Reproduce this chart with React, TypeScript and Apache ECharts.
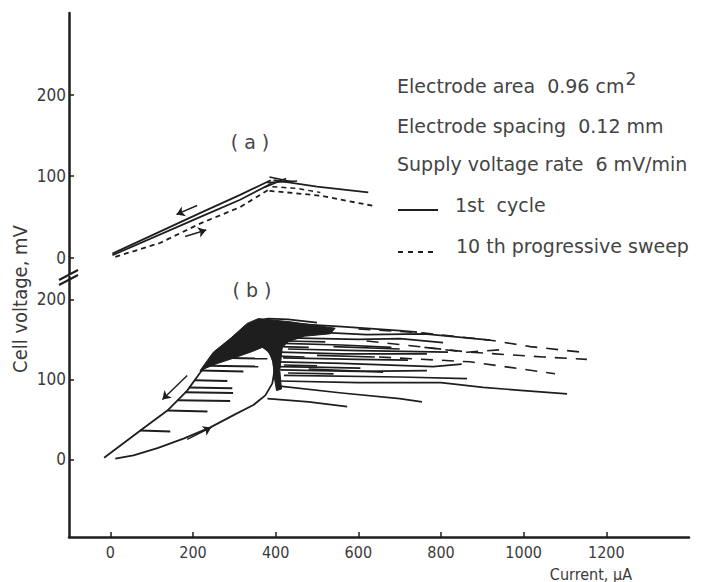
import React, { useEffect, useRef } from "react";
import * as echarts from "echarts";

// ---------- axes ----------
const X_TICKS = [0, 200, 400, 600, 800, 1000, 1200];
const Y_TICKS = [0, 100, 200];

// ---------- panel (a) : [current µA, voltage mV] ----------
const A_REVERSE_1ST = [[5, 5], [218, 55], [314, 77], [388, 95]];
const A_FORWARD_1ST = [[5, 3], [218, 50], [314, 71], [390, 91]];
const A_AFTER_1ST = [[395, 95], [500, 87], [624, 80]];
const A_UP_10TH = [[12, 1], [120, 18], [218, 42], [314, 62], [385, 84]];
const A_AFTER_10TH = [[385, 82], [510, 76], [641, 63]];
const A_AFTER_10TH_B = [[392, 87], [450, 85], [508, 80]];
const A_PEAK_MARKS = [
  [[372, 86], [425, 97]],
  [[385, 99], [440, 93]],
  [[380, 92], [452, 94]],
];
const A_ARROW_REV = [[210, 64], [160, 53]];
const A_ARROW_FWD = [[181, 26], [232, 34]];

// ---------- panel (b) ----------
const B_FORWARD = [[12, 1], [56, 5], [114, 14], [177, 26], [242, 40], [297, 55], [346, 68], [375, 80], [392, 95], [397, 111], [392, 128], [377, 139], [358, 143]];
const B_REVERSE = [[-15, 2], [80, 39], [138, 61], [186, 86], [218, 109], [249, 127], [290, 146], [331, 164], [363, 174], [382, 176], [430, 175], [500, 171]];
const B_DARK = [[217, 111], [249, 134], [290, 151], [331, 170], [358, 176], [435, 172], [544, 164], [532, 157], [470, 154], [430, 147], [416, 140], [410, 111], [414, 88], [402, 86], [396, 105], [394, 121], [384, 134], [368, 140], [339, 134], [295, 126], [254, 119]];
const B_HATCH = [
  [[72, 36], [145, 35]],
  [[138, 61], [235, 60]],
  [[163, 74], [290, 73]],
  [[181, 84], [297, 83]],
  [[190, 90], [295, 89]],
  [[204, 99], [283, 98]],
  [[221, 111], [322, 110]],
  [[240, 117], [358, 116]],
  [[262, 127], [380, 126]],
];
const B_FAN_SOLID = [
  [[430, 170], [560, 166], [700, 161], [742, 159]],
  [[460, 160], [620, 156], [760, 157], [919, 149]],
  [[430, 152], [600, 150], [701, 151], [805, 146]],
  [[418, 145], [560, 143], [680, 140]],
  [[411, 134], [560, 132], [766, 132]],
  [[430, 138], [600, 136], [817, 134]],
  [[404, 122], [560, 120], [781, 116], [850, 119]],
  [[418, 127], [600, 125], [720, 124]],
  [[411, 112], [600, 110], [766, 111]],
  [[420, 105], [700, 103], [863, 101]],
  [[410, 98], [600, 96], [800, 96], [902, 90], [1000, 86], [1105, 82]],
  [[404, 92], [560, 83], [700, 76], [754, 72]],
  [[380, 76], [480, 72], [573, 66]],
  [[404, 116], [520, 115], [605, 114]],
  [[420, 160], [520, 159]],
  [[415, 165], [500, 163]],
  [[425, 148], [520, 147]],
  [[410, 141], [480, 140]],
  [[420, 118], [500, 117]],
  [[430, 108], [540, 107]],
  [[405, 129], [470, 128]],
  [[500, 130], [640, 128]],
  [[540, 141], [700, 138]],
  [[480, 113], [660, 109]],
];
const B_FAN_DASHED = [
  [[600, 163], [760, 158], [920, 149], [1016, 141], [1141, 134]],
  [[620, 148], [870, 134], [1047, 128], [1153, 125]],
  [[650, 128], [870, 122], [967, 115], [1076, 107]],
  [[760, 140], [863, 134], [943, 137]],
];
const B_ARROW_REV = [[186, 105], [126, 75]];
const B_ARROW_FWD = [[186, 25], [244, 40]];

const INK = "#1e1e1e";
const TXT = "#3a3a3a";
const NOTE = "#444444";
const NARROW = "'Liberation Sans Narrow', 'DejaVu Sans Condensed', 'Roboto', sans-serif";
const ROUND = "'DejaVu Sans', 'Noto Sans', sans-serif";

function lineSeries(data: number[][], axis: number, dashed = false, width = 1.8) {
  return {
    type: "line",
    xAxisIndex: axis,
    yAxisIndex: axis,
    data,
    showSymbol: false,
    symbol: "none",
    silent: true,
    lineStyle: { color: INK, width, type: dashed ? [5, 4] : "solid" },
  };
}

function linesSeries(paths: number[][][], axis: number, opts: any = {}) {
  return {
    type: "lines",
    coordinateSystem: "cartesian2d",
    xAxisIndex: axis,
    yAxisIndex: axis,
    polyline: opts.polyline ?? true,
    silent: true,
    data: paths.map((p) => ({ coords: p })),
    lineStyle: { color: INK, width: opts.width ?? 1.8, type: opts.dash ?? "solid", opacity: 1 },
    symbol: opts.symbol ?? "none",
    symbolSize: opts.symbolSize ?? 0,
  };
}

const fmt = (v: number) => String(v);

export default function App() {
  const ref = useRef<HTMLDivElement>(null);
  useEffect(() => {
    if (!ref.current) return;
    const chart = echarts.init(ref.current, null, { renderer: "svg" });
    const xAxisBase = {
      type: "value",
      min: -100,
      max: 1400,
      splitLine: { show: false },
    };
    const yLabel = { customValues: Y_TICKS, color: TXT, fontFamily: NARROW, fontSize: 17, margin: 3, formatter: fmt };
    const yTick = { show: true, inside: true, length: 5, customValues: Y_TICKS, lineStyle: { color: INK, width: 1.5 } };
    const option: any = {
      animation: false,
      backgroundColor: "#ffffff",
      grid: [
        { left: 69, right: 16, top: 13, height: 261 },
        { left: 69, right: 16, top: 277, height: 260 },
      ],
      xAxis: [
        { ...xAxisBase, gridIndex: 0, show: false },
        {
          ...xAxisBase,
          gridIndex: 1,
          axisLine: { show: true, onZero: false, lineStyle: { color: INK, width: 2.5 } },
          axisTick: { show: true, inside: true, length: 5, customValues: X_TICKS, lineStyle: { color: INK, width: 1.5 } },
          axisLabel: { customValues: X_TICKS, color: TXT, fontFamily: NARROW, fontSize: 16, margin: 7, formatter: fmt },
        },
      ],
      yAxis: [
        {
          type: "value",
          gridIndex: 0,
          min: -20,
          max: 300,
          splitLine: { show: false },
          axisLine: { show: true, onZero: false, lineStyle: { color: INK, width: 2.5 } },
          axisTick: yTick,
          axisLabel: yLabel,
        },
        {
          type: "value",
          gridIndex: 1,
          min: -97,
          max: 228,
          splitLine: { show: false },
          axisLine: { show: true, onZero: false, lineStyle: { color: INK, width: 2.5 } },
          axisTick: yTick,
          axisLabel: yLabel,
        },
      ],
      series: [
        // panel (a)
        lineSeries(A_REVERSE_1ST, 0),
        lineSeries(A_FORWARD_1ST, 0),
        lineSeries(A_AFTER_1ST, 0),
        lineSeries(A_UP_10TH, 0, true),
        lineSeries(A_AFTER_10TH, 0, true),
        lineSeries(A_AFTER_10TH_B, 0, true, 1.5),
        linesSeries(A_PEAK_MARKS, 0, { width: 1.6 }),
        linesSeries([A_ARROW_REV, A_ARROW_FWD], 0, { width: 1.4, polyline: false, symbol: ["none", "arrow"], symbolSize: 8 }),
        // panel (b)
        {
          type: "custom",
          xAxisIndex: 1,
          yAxisIndex: 1,
          silent: true,
          data: [[0, 0]],
          renderItem: (_params: any, api: any) => ({
            type: "polygon",
            shape: { points: B_DARK.map((p) => api.coord(p)) },
            style: { fill: INK, stroke: INK, lineWidth: 1 },
          }),
        },
        lineSeries(B_FORWARD, 1),
        lineSeries(B_REVERSE, 1),
        linesSeries(B_HATCH, 1, { width: 2 }),
        linesSeries(B_FAN_SOLID, 1, { width: 1.7 }),
        linesSeries(B_FAN_DASHED, 1, { width: 1.6, dash: [12, 9] }),
        linesSeries([B_ARROW_REV, B_ARROW_FWD], 1, { width: 1.4, polyline: false, symbol: ["none", "arrow"], symbolSize: 8 }),
      ],
      graphic: [
        // axis break marks
        { type: "line", shape: { x1: 59, y1: 280, x2: 78, y2: 270 }, style: { stroke: INK, lineWidth: 2 } },
        { type: "line", shape: { x1: 59, y1: 285, x2: 78, y2: 275 }, style: { stroke: INK, lineWidth: 2 } },
        // axis titles
        {
          type: "text",
          x: 20,
          y: 299,
          rotation: Math.PI / 2,
          style: { text: "Cell voltage, mV", fill: TXT, font: `20px ${NARROW}`, align: "center", verticalAlign: "middle" },
        },
        {
          type: "text",
          x: 632,
          y: 574,
          style: { text: "Current, µA", fill: TXT, font: `16px ${NARROW}`, align: "right", verticalAlign: "middle" },
        },
        // panel labels
        { type: "text", x: 250, y: 142, style: { text: "( a )", fill: NOTE, font: `19px ${ROUND}`, align: "center", verticalAlign: "middle" } },
        { type: "text", x: 252, y: 290, style: { text: "( b )", fill: NOTE, font: `19px ${ROUND}`, align: "center", verticalAlign: "middle" } },
        // notes
        {
          type: "text",
          x: 397,
          y: 83,
          style: {
            text: "{n|Electrode area  0.96 cm}{s|2}",
            verticalAlign: "middle",
            rich: {
              n: { fill: NOTE, fontSize: 19, fontFamily: ROUND, verticalAlign: "bottom" },
              s: { fill: NOTE, fontSize: 17, fontFamily: ROUND, verticalAlign: "bottom", padding: [0, 0, 8, 1] },
            },
          },
        },
        { type: "text", x: 397, y: 126, style: { text: "Electrode spacing  0.12 mm", fill: NOTE, font: `19px ${ROUND}`, verticalAlign: "middle" } },
        { type: "text", x: 397, y: 164, style: { text: "Supply voltage rate  6 mV/min", fill: NOTE, font: `19px ${ROUND}`, verticalAlign: "middle" } },
        { type: "line", shape: { x1: 398, y1: 210, x2: 438, y2: 210 }, style: { stroke: INK, lineWidth: 2 } },
        { type: "text", x: 455, y: 205, style: { text: "1st  cycle", fill: NOTE, font: `19px ${ROUND}`, verticalAlign: "middle" } },
        { type: "line", shape: { x1: 398, y1: 252, x2: 438, y2: 252 }, style: { stroke: INK, lineWidth: 2, lineDash: [5, 5] } },
        { type: "text", x: 456, y: 246, style: { text: "10 th progressive sweep", fill: NOTE, font: `19px ${ROUND}`, verticalAlign: "middle" } },
      ],
    };
    chart.setOption(option);
    return () => chart.dispose();
  }, []);
  return <div ref={ref} style={{ position: "fixed", left: 0, top: 0, width: 705, height: 582 }} />;
}
